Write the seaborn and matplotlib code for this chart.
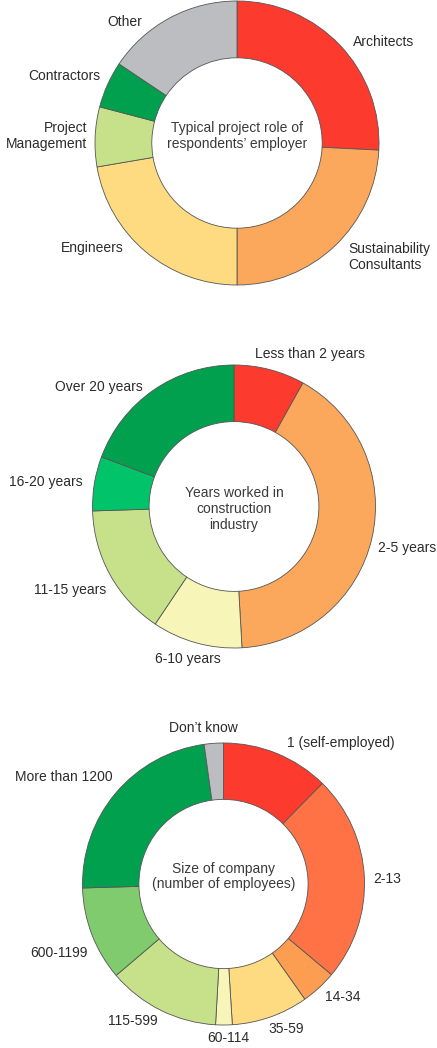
import numpy as np
import seaborn as sns
import matplotlib.pyplot as plt

# --- data (percent of respondents) ---
role_labels = ["Architects", "Sustainability\nConsultants", "Engineers",
               "Project\nManagement", "Contractors", "Other"]
role_values = [25.8, 24.2, 22.3, 6.8, 5.3, 15.6]
role_colors = ["#fc3a2e", "#fca85c", "#fedb80", "#c6e18a", "#01a04e", "#bbbdc0"]

years_labels = ["Less than 2 years", "2-5 years", "6-10 years", "11-15 years",
                "16-20 years", "Over 20 years"]
years_values = [8.1, 41.0, 10.3, 15.1, 6.2, 19.3]
years_colors = ["#fc3a2e", "#fca85c", "#f8f5b9", "#c6e18a", "#00c36a", "#01a04e"]

size_labels = ["1 (self-employed)", "2-13", "14-34", "35-59", "60-114",
               "115-599", "600-1199", "More than 1200", "Don\u2019t know"]
size_values = [12.4, 23.8, 4.1, 8.8, 1.9, 12.9, 10.8, 23.3, 2.2]
size_colors = ["#fc3a2e", "#fe7245", "#fd9d52", "#fedb80", "#f8f5b9",
               "#c6e18a", "#80cb6e", "#01a04e", "#bbbdc0"]

sns.set_theme(style="white")
plt.rcParams['font.family'] = ['Liberation Sans', 'DejaVu Sans']

W, H = 437, 1048
fig = plt.figure(figsize=(W / 100, H / 100), dpi=100)
ax = fig.add_axes([0, 0, 1, 1])

txt = "#2b2b2b"

def donut(values, colors, cx, cy, r, center_text, center_y, labels, label_pos):
    # cy given in pixels from top
    ax.pie(values, colors=colors, startangle=90, counterclock=False,
           center=(cx, H - cy), radius=r, frame=True,
           wedgeprops=dict(width=r * 0.4, edgecolor="#555555", linewidth=0.6))
    ax.text(cx, H - center_y, center_text, ha="center", va="center",
            fontsize=10, color="#3a3a3a", linespacing=1.15)
    for lab, (x, y, ha) in zip(labels, label_pos):
        ax.text(x, H - y, lab, ha=ha, va="center", fontsize=10, color=txt,
                multialignment=ha if ha != "center" else "center",
                linespacing=1.15)

# label anchors in pixels (x, y from top, alignment)
role_pos = [(353, 42, "left"), (348, 257, "left"), (124, 248, "right"),
            (87, 136, "right"), (100, 76, "right"), (142, 22, "right")]
donut(role_values, role_colors, 237, 143, 142,
      "Typical project role of\nrespondents\u2019 employer", 136,
      role_labels, role_pos)

years_pos = [(255, 354, "left"), (378, 548, "left"), (188, 659, "center"),
             (106, 590, "right"), (83, 482, "right"), (143, 387, "right")]
donut(years_values, years_colors, 234, 506.5, 141.5,
      "Years worked in\nconstruction\nindustry", 509,
      years_labels, years_pos)

size_pos = [(287, 743, "left"), (373, 879, "left"), (325, 997, "left"),
            (268, 1029, "left"), (228, 1038, "center"), (158, 1021, "right"),
            (88, 953, "right"), (113, 777, "right"), (203, 728, "center")]
donut(size_values, size_colors, 223.5, 884, 141,
      "Size of company\n(number of employees)", 876.5,
      size_labels, size_pos)

ax.set_xlim(0, W)
ax.set_ylim(0, H)
ax.set_aspect("auto")
ax.axis("off")

fig.savefig("out.png", dpi=100, facecolor="white")
